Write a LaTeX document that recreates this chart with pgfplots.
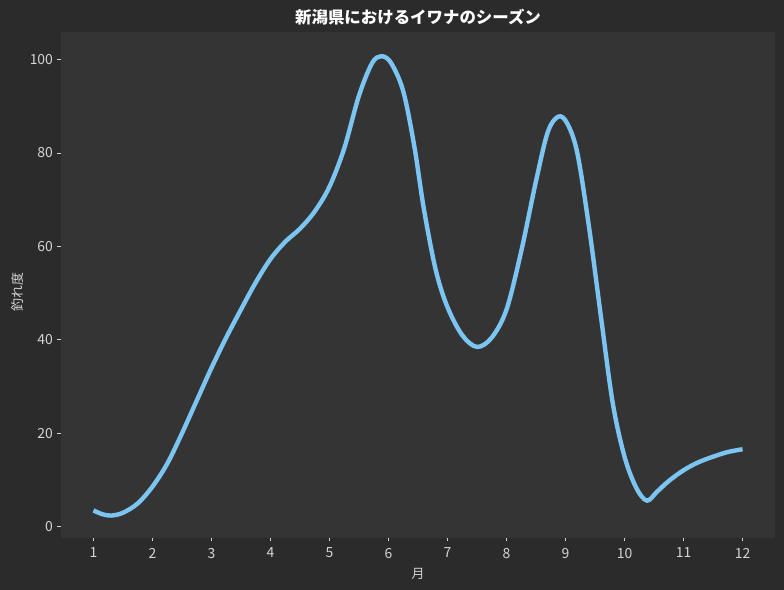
\documentclass[border=0pt]{standalone}
\usepackage{fontspec}
\setmainfont{Noto Sans CJK JP}
\usepackage{pgfplots}
\pgfplotsset{compat=1.18}
\definecolor{bgout}{RGB}{43,43,43}
\definecolor{bgin}{RGB}{52,52,52}
\definecolor{tickcol}{RGB}{212,212,212}
\definecolor{linecol}{RGB}{124,196,242}
\begin{document}
\begin{tikzpicture}
\fill[bgout] (0bp,0bp) rectangle (784bp,590bp);
\begin{axis}[
  at={(61bp,52bp)}, anchor=south west,
  scale only axis, width=714bp, height=506bp,
  xmin=0.45, xmax=12.55, ymin=-2.4, ymax=105.9,
  axis background/.style={fill=bgin},
  axis line style={draw=none},
  xtick={1,2,3,4,5,6,7,8,9,10,11,12},
  ytick={0,20,40,60,80,100},
  tick align=outside, xtick pos=bottom, ytick pos=left,
  major tick length=3.5bp,
  tick style={draw=tickcol, line width=0.8bp},
  tick label style={text=tickcol, font=\fontsize{14}{16}\selectfont},
  /pgf/number format/assume math mode=true,
  xticklabel style={yshift=-3bp},
  yticklabel style={xshift=-1bp},
]
\addplot[linecol, line width=4.4bp, smooth, tension=0.55] coordinates {
(1.0,3.5) (1.15,2.7) (1.3,2.4) (1.5,3.0) (1.75,5.0) (2.0,8.6) (2.25,13.5)
(2.5,20) (2.75,27) (3.0,34) (3.25,40.5) (3.5,46.5) (3.75,52.3) (4.0,57.3)
(4.25,61) (4.5,63.8) (4.75,67.5) (5.0,72.8) (5.25,81) (5.5,92.3) (5.72,99.2)
(5.87,100.7) (6.02,99.7) (6.19,95.5) (6.3,90.6) (6.45,80.5) (6.6,68) (6.8,55) (7.0,47)
(7.25,41) (7.5,38.5) (7.75,40.5) (8.0,46.5) (8.25,59) (8.5,74) (8.7,84.5)
(8.88,87.8) (9.03,86.3) (9.2,80) (9.4,64) (9.6,45) (9.8,26.5) (10.0,15)
(10.2,8.3) (10.38,5.6) (10.55,7.5) (10.75,9.8) (11.0,12.1) (11.25,13.8)
(11.5,15) (11.75,16) (12.0,16.6)
};
\end{axis}
\node[text=tickcol, font=\fontsize{16.5}{18}\selectfont\bfseries, text=white] at (418bp,573bp) {新潟県におけるイワナのシーズン};
\node[text=tickcol, font=\fontsize{13}{15}\selectfont] at (418bp,16.5bp) {月};
\node[text=tickcol, font=\fontsize{13}{15}\selectfont, rotate=90] at (18bp,298bp) {釣れ度};
\end{tikzpicture}
\end{document}
